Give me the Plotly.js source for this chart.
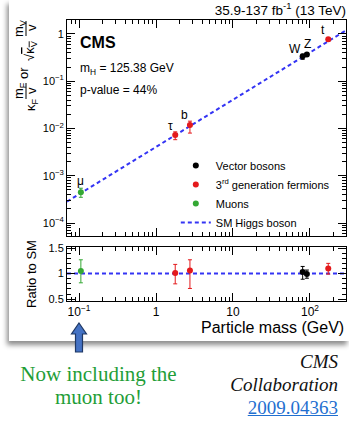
<!DOCTYPE html>
<html>
<head>
<meta charset="utf-8">
<script src="https://cdn.plot.ly/plotly-3.0.1.min.js"></script>
<style>
  html, body { margin: 0; padding: 0; background: #ffffff; width: 349px; height: 421px; overflow: hidden; position: relative; }
  #box { position: absolute; left: 9px; top: 0; width: 340px; height: 341px; background: #fff;
         box-shadow: -2px 4px 5px rgba(0,0,0,0.45); }
  #chart { width: 340px; height: 341px; }
  .green { position: absolute; left: 0; width: 197px; text-align: center; color: #1f9e38;
           font-family: "Liberation Serif", "DejaVu Serif", serif; font-size: 21px; line-height: 23px; top: 363px; }
  .cite { position: absolute; right: 11px; top: 350px; text-align: right; color: #111;
          font-family: "Liberation Serif", "DejaVu Serif", serif; font-style: italic; font-size: 19px; line-height: 23px; }
  .cite a { color: #1f6fd0; font-style: normal; text-decoration: underline; }
  #arrow { position: absolute; left: 70px; top: 322px; }
</style>
</head>
<body>
<div id="box"><div id="chart"></div></div>
<svg id="arrow" width="18" height="32" viewBox="0 0 18 32">
  <polygon points="9,1 16.5,12 12.5,12 12.5,30 5.5,30 5.5,12 1.5,12" fill="#4472C4" stroke="#1f3864" stroke-width="1.2"/>
</svg>
<div class="green">Now including the<br>muon too!</div>
<div class="cite">CMS<br>Collaboration<br><a>2009.04363</a></div>
<script>
// ---- data ----
const vectorNames = ['W', 'Z'];
const vectorMass = [80.38, 91.19];
const vectorCoupling = [0.336, 0.366];
const vectorErrUp = [0.036, 0.03];
const vectorErrDown = [0.045, 0.03];
const vectorRatio = [1.03, 0.99];
const vectorRatioErrUp = [0.11, 0.08];
const vectorRatioErrDown = [0.14, 0.08];

const fermionNames = ['τ', 'b', 't'];
const fermionMass = [1.777, 2.76, 172.76];
const fermionCoupling = [0.0073, 0.0119, 0.77];
const fermionErrUp = [0.0012, 0.0024, 0.07];
const fermionErrDown = [0.0015, 0.0039, 0.077];
const fermionRatio = [1.01, 1.06, 1.10];
const fermionRatioErrUp = [0.17, 0.21, 0.10];
const fermionRatioErrDown = [0.21, 0.35, 0.11];

const muonNames = ['μ'];
const muonMass = [0.1057];
const muonCoupling = [0.00045];
const muonErrUp = [0.000095];
const muonErrDown = [0.0001];
const muonRatio = [1.05];
const muonRatioErrUp = [0.22];
const muonRatioErrDown = [0.23];

const smLineMass = [0.0698, 294];
const smLineCoupling = [0.000284, 1.194];
const smLineRatio = [1, 1];

const xTickVals = [0.1, 1, 10, 100];
const xTickText = ['10<sup>−1</sup>', '1', '10', '10<sup>2</sup>'];
const yTickVals = [0.0001, 0.001, 0.01, 0.1, 1];
const yTickText = ['10<sup>−4</sup>', '10<sup>−3</sup>', '10<sup>−2</sup>', '10<sup>−1</sup>', '1'];
const ratioTickVals = [0.5, 1, 1.5];
const ratioTickText = ['0.5', '1', '1.5'];

// ---- styling helpers ----
const FONT = '"Liberation Sans", Arial, Helvetica, sans-serif';
const RED = '#e41a1c', BLACK = '#000000', GREEN = '#34a834', BLUE = '#3434f4';

function logMinor(lo, hi) {
  const out = [];
  for (let e = lo; e <= hi; e++) for (let k = 2; k <= 9; k++) out.push(k * Math.pow(10, e));
  return out;
}

function pts(x, y, up, down, color, name, rank, xa, ya, show) {
  return {
    type: 'scatter', mode: 'markers', x: x, y: y, name: name, legendrank: rank,
    xaxis: xa, yaxis: ya, showlegend: show, cliponaxis: false,
    marker: { color: color, size: 6 },
    error_y: { type: 'data', symmetric: false, array: up, arrayminus: down,
               color: color, thickness: 1, width: 2 }
  };
}

const data = [
  { type: 'scatter', mode: 'lines', x: smLineMass, y: smLineCoupling, name: 'SM Higgs boson',
    legendrank: 4, xaxis: 'x', yaxis: 'y', line: { color: BLUE, width: 2, dash: '4px,3px' } },
  { type: 'scatter', mode: 'lines', x: smLineMass, y: smLineRatio, showlegend: false,
    xaxis: 'x2', yaxis: 'y2', line: { color: BLUE, width: 2, dash: '4px,3px' } },
  pts(vectorMass, vectorCoupling, vectorErrUp, vectorErrDown, BLACK, 'Vector bosons', 1, 'x', 'y', true),
  pts(fermionMass, fermionCoupling, fermionErrUp, fermionErrDown, RED, '3<sup>rd</sup> generation fermions', 2, 'x', 'y', true),
  pts(muonMass, muonCoupling, muonErrUp, muonErrDown, GREEN, 'Muons', 3, 'x', 'y', true),
  pts(vectorMass, vectorRatio, vectorRatioErrUp, vectorRatioErrDown, BLACK, 'Vector bosons', 1, 'x2', 'y2', false),
  pts(fermionMass, fermionRatio, fermionRatioErrUp, fermionRatioErrDown, RED, '3rd', 2, 'x2', 'y2', false),
  pts(muonMass, muonRatio, muonRatioErrUp, muonRatioErrDown, GREEN, 'Muons', 3, 'x2', 'y2', false)
];

// particle labels next to the points
const labelShift = { 'μ': [0, 11], 'τ': [-5, 9], 'b': [-5, 10], 'W': [-8, 7], 'Z': [1, 11], 't': [-5, 9] };
const annotations = [];
function addLabels(names, mass, coupling) {
  names.forEach((n, i) => annotations.push({
    xref: 'x', yref: 'y', x: Math.log10(mass[i]), y: Math.log10(coupling[i]),
    text: n, showarrow: false, xshift: labelShift[n][0], yshift: labelShift[n][1],
    font: { family: FONT, size: 12, color: '#000' }, xanchor: 'center', yanchor: 'middle'
  }));
}
addLabels(muonNames, muonMass, muonCoupling);
addLabels(fermionNames, fermionMass, fermionCoupling);
addLabels(vectorNames, vectorMass, vectorCoupling);

// texts placed in pixels relative to the top-left of the plot frame (page x=67, y=20)
function pix(text, dx, dy, opts) {
  return Object.assign({
    xref: 'paper', yref: 'paper', x: 0, y: 1, xshift: dx, yshift: -dy, text: text,
    showarrow: false, xanchor: 'center', yanchor: 'middle',
    font: { family: FONT, size: 13, color: '#000' }
  }, opts || {});
}
annotations.push(pix('<b>CMS</b>', 11, 22, { xanchor: 'left', font: { family: FONT, size: 16, color: '#000' } }));
annotations.push(pix('m<sub>H</sub> = 125.38 GeV', 11, 49, { xanchor: 'left', font: { family: FONT, size: 12, color: '#000' } }));
annotations.push(pix('p-value = 44%', 11, 70, { xanchor: 'left', font: { family: FONT, size: 12, color: '#000' } }));
// rotated y title: κF mF/v or √κV mV/v
const rot = { textangle: -90 };
annotations.push(pix('κ<sub>F</sub>', -36, 85, rot));
annotations.push(pix('m<sub>F</sub>', -48, 71, rot));
annotations.push(pix('v', -36, 71, rot));
annotations.push(pix('or', -44, 53, rot));
annotations.push(pix('√<span style="text-decoration:overline">κ<sub>V</sub></span>', -37, 31, rot));
annotations.push(pix('m<sub>V</sub>', -48, 8, rot));
annotations.push(pix('v', -36, 8, rot));
annotations.push(pix('Ratio to SM', -36, 254, rot));
// x title, right aligned
annotations.push({ xref: 'paper', yref: 'paper', x: 1, y: 0, xanchor: 'right', yanchor: 'middle',
  yshift: -26, showarrow: false, text: 'Particle mass (GeV)', font: { family: FONT, size: 16, color: '#000' } });

const shapes = [
  { type: 'line', xref: 'paper', yref: 'paper', xsizemode: 'pixel', ysizemode: 'pixel',
    xanchor: 0, yanchor: 1, x0: -41, x1: -41, y0: -63, y1: -79, line: { color: '#000', width: 1 } },
  { type: 'line', xref: 'paper', yref: 'paper', xsizemode: 'pixel', ysizemode: 'pixel',
    xanchor: 0, yanchor: 1, x0: -41, x1: -41, y0: -1, y1: -16, line: { color: '#000', width: 1 } }
];

const commonAxis = {
  showline: true, linecolor: '#000', linewidth: 1, mirror: 'allticks', ticks: 'inside',
  ticklen: 8, tickwidth: 1, tickcolor: '#000', showgrid: false, zeroline: false,
  tickfont: { family: FONT, size: 11, color: '#000' }
};

const layout = {
  width: 340, height: 341,
  margin: { l: 58, r: 3, t: 20, b: 40 },
  paper_bgcolor: '#fff', plot_bgcolor: '#fff',
  title: { text: '35.9-137 fb<sup>-1</sup> (13 TeV)', x: 1, xref: 'paper', xanchor: 'right',
           y: 1 - 10 / 341, yref: 'container', yanchor: 'middle',
           font: { family: FONT, size: 13.5, color: '#000' } },
  showlegend: true,
  legend: { x: 0.39, y: 0.534, xanchor: 'left', yanchor: 'top', bgcolor: 'rgba(0,0,0,0)',
            font: { family: FONT, size: 11, color: '#000' }, traceorder: 'normal' },
  xaxis: Object.assign({}, commonAxis, {
    type: 'log', range: [-1.156, 2.468], anchor: 'y', domain: [0, 1],
    tickvals: xTickVals, showticklabels: false,
    minor: { tickmode: 'array', tickvals: logMinor(-2, 2), ticks: 'inside', ticklen: 4, tickcolor: '#000' }
  }),
  yaxis: Object.assign({}, commonAxis, {
    type: 'log', range: [-4.275, 0.296], domain: [0.2313, 1], anchor: 'x',
    tickvals: yTickVals, ticktext: yTickText,
    minor: { tickmode: 'array', tickvals: logMinor(-5, 0), ticks: 'inside', ticklen: 4, tickcolor: '#000' }
  }),
  xaxis2: Object.assign({}, commonAxis, {
    type: 'log', range: [-1.156, 2.468], anchor: 'y2', domain: [0, 1], matches: 'x',
    tickvals: xTickVals, ticktext: xTickText, tickfont: { family: FONT, size: 12, color: '#000' },
    minor: { tickmode: 'array', tickvals: logMinor(-2, 2), ticks: 'inside', ticklen: 4, tickcolor: '#000' }
  }),
  yaxis2: Object.assign({}, commonAxis, {
    range: [0.465, 1.52], domain: [0, 0.1922], anchor: 'x2',
    tickvals: ratioTickVals, ticktext: ratioTickText,
    minor: { dtick: 0.1, tick0: 0.5, ticks: 'inside', ticklen: 4, tickcolor: '#000' }
  }),
  annotations: annotations,
  shapes: shapes
};

Plotly.newPlot('chart', data, layout, { staticPlot: true, displayModeBar: false });
</script>
</body>
</html>
